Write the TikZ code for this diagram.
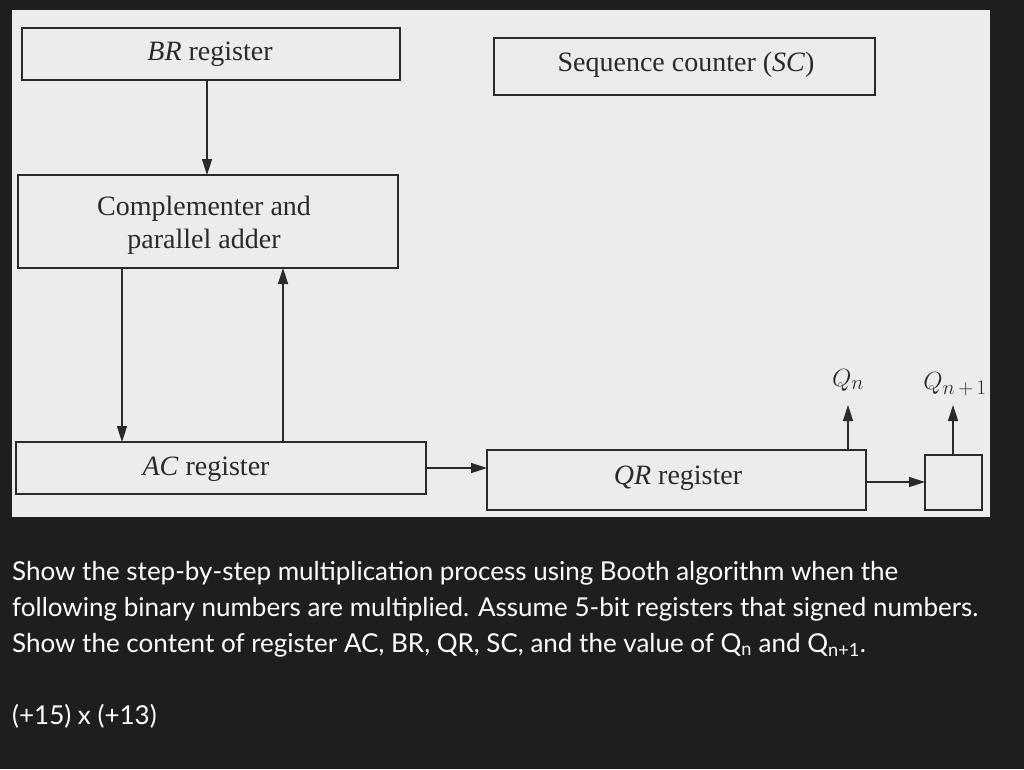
\documentclass[tikz,border=0pt]{standalone}
\usepackage{fontspec}
\setmainfont{Liberation Serif}
\newfontfamily\qfont{Lato}
\usetikzlibrary{arrows.meta}
\definecolor{bgdark}{HTML}{1E1E1E}
\definecolor{scan}{HTML}{ECECEA}
\definecolor{ink}{HTML}{2A2A2A}
\begin{document}
\begin{tikzpicture}[x=1pt,y=-1pt,
  regbox/.style={draw=ink,line width=1.8pt},
  flow/.style={draw=ink,line width=1.5pt,-{Triangle[length=16pt,width=10pt]}},
  lbl/.style={font=\fontsize{28}{33}\selectfont,text=ink},
  qtext/.style={font=\qfont\fontsize{26}{36}\selectfont,text=white,anchor=west,align=left,inner sep=0pt}]
\fill[bgdark] (0,0) rectangle (1024,769);
\fill[scan] (12,10) rectangle (990,517);
% registers
\draw[regbox] (22,28) rectangle (400,80);
\node[lbl] (br) at (210,54) {\textit{BR} register};
\draw[regbox] (494,38) rectangle (875,95);
\node[lbl] (sc) at (686,65) {Sequence counter (\textit{SC})};
\draw[regbox] (18,175) rectangle (398,268);
\node[lbl,align=center] (cpa) at (204,225) {Complementer and\\parallel adder};
\draw[regbox] (16,442) rectangle (426,494);
\node[lbl] (ac) at (206,469) {\textit{AC} register};
\draw[regbox] (487,450) rectangle (866,510);
\node[lbl] (qr) at (678,478) {\textit{QR} register};
\draw[regbox] (925,455) rectangle (982,510);
% connectors
\draw[flow] (207,80) -- (207,175);
\draw[flow] (122,268) -- (122,442);
\draw[flow] (283,442) -- (283,268);
\draw[flow] (426,468) -- (487,468);
\draw[flow] (866,482) -- (925,482);
\draw[flow] (848,450) -- (848,405);
\draw[flow] (953,455) -- (953,405);
\node[lbl] (qn) at (848,380) {$Q_n$};
\node[lbl] (qn1) at (955,384) {$Q_{n\,+\,1}$};
% question
\node[qtext] (q) at (12,609) {Show the step-by-step multiplication process using Booth algorithm when the\\following binary numbers are multiplied. Assume 5-bit registers that signed numbers.\\Show the content of register AC, BR, QR, SC, and the value of Q\textsubscript{n} and Q\textsubscript{n+1}.};
\node[qtext] (ex) at (12,716) {(+15) x (+13)};
\end{tikzpicture}
\end{document}
